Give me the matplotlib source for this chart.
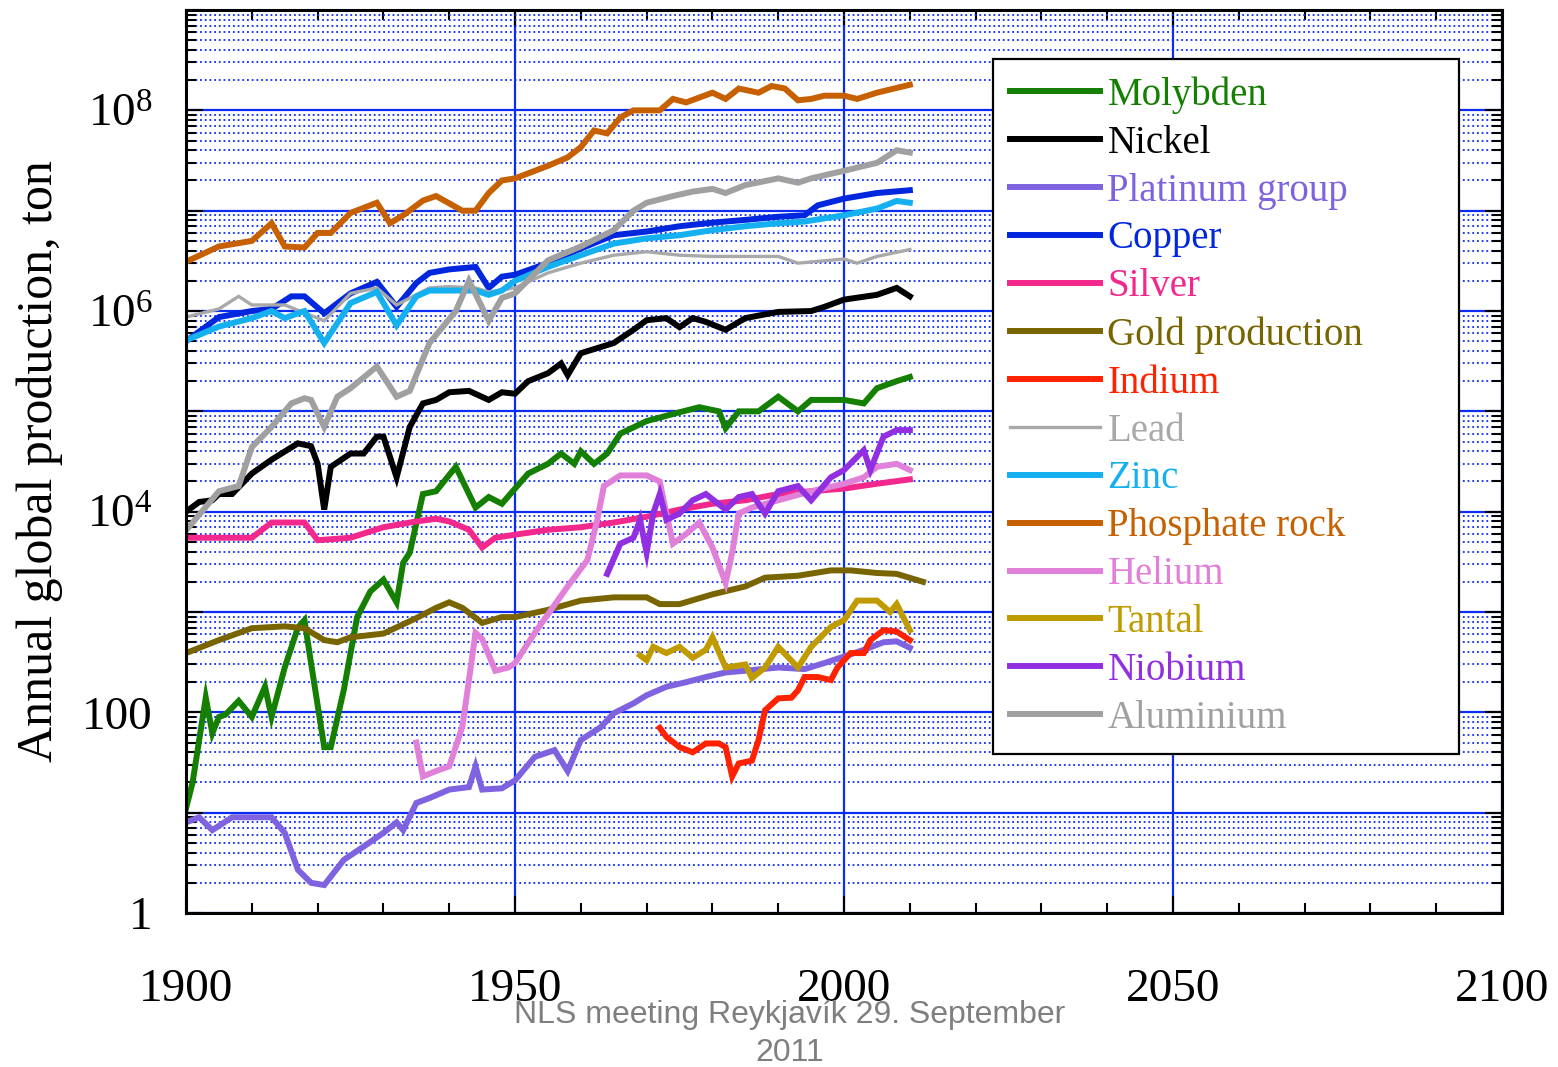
import numpy as np
import matplotlib
matplotlib.use("Agg")
import matplotlib.pyplot as plt
from matplotlib.ticker import LogLocator, FuncFormatter, MultipleLocator, NullFormatter

plt.rcParams['font.family'] = ['Liberation Serif', 'DejaVu Serif']
plt.rcParams['mathtext.fontset'] = 'custom'
plt.rcParams['mathtext.rm'] = 'Liberation Serif'
plt.rcParams['mathtext.it'] = 'Liberation Serif'

#%% data (tonnes per year)
moly_yr = [1900, 1901, 1902, 1903, 1904, 1905, 1906, 1908, 1910, 1912, 1913, 1915, 1917, 1918, 1919, 1921, 1922,
           1924, 1926, 1928, 1930, 1932, 1933, 1934, 1936, 1938, 1941, 1944, 1946, 1948, 1950, 1952, 1955, 1957,
           1959, 1960, 1962, 1964, 1966, 1970, 1975, 1978, 1981, 1982, 1984, 1987, 1990, 1993, 1995, 2000, 2003,
           2005, 2008, 2010]
moly_val = [11, 20, 53, 140, 62, 90, 95, 130, 90, 180, 90, 280, 700, 830, 310, 45, 45,
            170, 890, 1600, 2100, 1250, 3100, 3900, 15000, 16000, 28000, 11000, 14000, 12000, 17000, 24000, 30000,
            38000, 30000, 40000, 30000, 38000, 60000, 80000, 98000, 110000, 100000, 68000, 100000, 100000, 140000,
            100000, 130000, 130000, 120000, 170000, 200000, 220000]

nickel_yr = [1900, 1902, 1904, 1905, 1907, 1910, 1913, 1917, 1919, 1920, 1921, 1922, 1925, 1927, 1929, 1930, 1932,
             1934, 1936, 1938, 1940, 1943, 1946, 1948, 1950, 1952, 1955, 1957, 1958, 1960, 1965, 1968, 1970, 1973,
             1975, 1977, 1979, 1982, 1985, 1990, 1995, 1997, 2000, 2005, 2008, 2010]
nickel_val = [10000, 12500, 13000, 15000, 15000, 24000, 33000, 48000, 45000, 30000, 10500, 28000, 38000, 38000,
              56000, 56000, 22000, 70000, 120000, 130000, 155000, 160000, 130000, 155000, 150000, 200000, 240000,
              300000, 230000, 380000, 480000, 650000, 810000, 850000, 690000, 850000, 780000, 650000, 850000,
              980000, 1000000, 1100000, 1300000, 1450000, 1700000, 1400000]

pgm_yr = [1900, 1902, 1904, 1907, 1910, 1913, 1915, 1917, 1919, 1921, 1924, 1927, 1930, 1932, 1933, 1935, 1937,
          1940, 1943, 1944, 1945, 1948, 1950, 1953, 1956, 1958, 1960, 1963, 1965, 1968, 1970, 1973, 1976, 1979,
          1982, 1985, 1990, 1994, 1997, 2000, 2003, 2006, 2008, 2010]
pgm_val = [8, 9, 6.7, 9, 9, 9, 6.3, 2.7, 2, 1.9, 3.4, 4.6, 6.3, 8, 6.7, 12.5, 14,
           17, 18, 29, 17, 17.5, 21, 36, 42, 26, 53, 71, 98, 123, 148, 180, 200, 225,
           250, 260, 280, 270, 310, 360, 420, 500, 510, 440]

copper_yr = [1900, 1905, 1910, 1913, 1916, 1918, 1921, 1925, 1929, 1932, 1935, 1937, 1940, 1944, 1946, 1948, 1950,
             1955, 1960, 1965, 1970, 1975, 1980, 1985, 1990, 1994, 1996, 2000, 2005, 2010]
copper_val = [5.0e5, 8.7e5, 1.0e6, 1.05e6, 1.4e6, 1.4e6, 9.5e5, 1.5e6, 1.95e6, 1.1e6, 1.9e6, 2.4e6, 2.6e6, 2.75e6,
              1.7e6, 2.2e6, 2.3e6, 3.0e6, 4.2e6, 5.7e6, 6.2e6, 7.0e6, 7.6e6, 8.1e6, 8.7e6, 9.0e6, 1.13e7, 1.32e7,
              1.5e7, 1.6e7]

silver_yr = [1900, 1910, 1913, 1918, 1920, 1925, 1930, 1935, 1938, 1940, 1943, 1945, 1947, 1950, 1955, 1960, 1965,
             1970, 1975, 1980, 1985, 1990, 1995, 2000, 2005, 2010]
silver_val = [5500, 5500, 7800, 7800, 5200, 5500, 7000, 8000, 8500, 8000, 6600, 4400, 5500, 5900, 6600, 7000, 7800,
              8900, 10500, 12000, 13000, 15000, 16000, 17000, 19000, 21000]

gold_yr = [1900, 1905, 1910, 1915, 1918, 1921, 1923, 1925, 1930, 1935, 1938, 1940, 1942, 1945, 1948, 1950, 1955,
           1960, 1965, 1970, 1972, 1975, 1980, 1985, 1988, 1993, 1998, 2001, 2005, 2008, 2012]
gold_val = [390, 525, 690, 720, 690, 525, 500, 560, 610, 870, 1100, 1250, 1100, 780, 890, 890, 1050,
            1300, 1400, 1400, 1200, 1200, 1500, 1800, 2200, 2300, 2600, 2600, 2450, 2400, 2000]

indium_yr = [1972, 1973, 1975, 1977, 1979, 1981, 1982, 1983, 1984, 1986, 1987, 1988, 1990, 1992, 1993, 1994, 1996,
             1998, 1999, 2001, 2003, 2004, 2006, 2008, 2010]
indium_val = [70, 57, 45, 40, 49, 49, 45, 23, 31, 33, 53, 105, 138, 140, 166, 225, 225,
              210, 280, 390, 390, 525, 660, 640, 525]

lead_yr = [1900, 1905, 1908, 1910, 1915, 1921, 1925, 1929, 1932, 1937, 1940, 1944, 1946, 1950, 1955, 1960, 1965,
           1970, 1975, 1980, 1985, 1990, 1993, 2000, 2002, 2005, 2010]
lead_val = [8.7e5, 1.05e6, 1.4e6, 1.15e6, 1.15e6, 8.0e5, 1.5e6, 1.7e6, 1.15e6, 1.7e6, 1.75e6, 1.7e6, 1.55e6,
            1.7e6, 2.4e6, 3.0e6, 3.6e6, 3.9e6, 3.6e6, 3.5e6, 3.5e6, 3.5e6, 3.0e6, 3.3e6, 3.0e6, 3.5e6, 4.1e6]

zinc_yr = [1900, 1905, 1910, 1913, 1915, 1918, 1921, 1925, 1929, 1932, 1935, 1937, 1940, 1944, 1946, 1948, 1950,
           1955, 1960, 1965, 1970, 1975, 1980, 1985, 1990, 1994, 2000, 2005, 2008, 2010]
zinc_val = [5.1e5, 7.0e5, 8.5e5, 1.0e6, 8.5e5, 1.0e6, 4.8e5, 1.2e6, 1.55e6, 7.2e5, 1.4e6, 1.6e6, 1.6e6, 1.6e6,
            1.45e6, 1.6e6, 2.0e6, 2.75e6, 3.6e6, 4.7e6, 5.3e6, 5.7e6, 6.4e6, 7.0e6, 7.5e6, 7.8e6, 9.0e6, 1.05e7,
            1.25e7, 1.2e7]

phos_yr = [1900, 1905, 1910, 1913, 1915, 1918, 1920, 1922, 1925, 1929, 1931, 1933, 1936, 1938, 1942, 1944, 1946,
           1948, 1950, 1955, 1958, 1960, 1962, 1964, 1966, 1968, 1972, 1974, 1976, 1980, 1982, 1984, 1987, 1989,
           1991, 1993, 1995, 1997, 2000, 2002, 2005, 2010]
phos_val = [3.1e6, 4.4e6, 5.0e6, 7.5e6, 4.4e6, 4.3e6, 6.0e6, 6.0e6, 9.5e6, 1.2e7, 7.5e6, 9.0e6, 1.26e7, 1.4e7,
            1.0e7, 1.0e7, 1.5e7, 2.0e7, 2.1e7, 2.8e7, 3.4e7, 4.3e7, 6.3e7, 5.9e7, 8.5e7, 1.0e8, 1.0e8, 1.3e8,
            1.2e8, 1.5e8, 1.3e8, 1.65e8, 1.5e8, 1.75e8, 1.65e8, 1.26e8, 1.3e8, 1.4e8, 1.4e8, 1.3e8, 1.5e8, 1.8e8]

helium_yr = [1935, 1936, 1938, 1940, 1942, 1944, 1945, 1947, 1949, 1950, 1953, 1958, 1961, 1962.5, 1963.5, 1966,
             1970, 1972, 1973, 1974, 1976, 1978, 1980, 1982, 1983, 1984, 1986, 1990, 1995, 2000, 2003, 2005, 2008,
             2010]
helium_val = [50, 23, 26, 29, 72, 620, 540, 260, 280, 310, 620, 1800, 3300, 8300, 18000, 23000,
              23000, 20000, 9600, 4800, 6000, 7800, 4400, 1950, 3900, 9600, 11000, 13000, 16000, 19000, 22000,
              28000, 30000, 26000]

tantal_yr = [1969, 1970, 1971, 1973, 1975, 1977, 1979, 1980, 1982, 1985, 1986, 1988, 1990, 1993, 1995, 1998, 2000,
             2002, 2005, 2007, 2008, 2010]
tantal_val = [370, 330, 450, 390, 450, 350, 420, 560, 280, 300, 220, 280, 450, 280, 450, 710, 830,
              1300, 1300, 1000, 1200, 660]

niob_yr = [1964, 1966, 1968, 1969, 1970, 1971, 1972, 1973, 1975, 1977, 1979, 1982, 1984, 1986, 1988, 1990, 1993,
           1995, 1998, 2000, 2003, 2004, 2006, 2008, 2010]
niob_val = [2400, 4800, 5500, 8300, 3900, 9600, 15000, 8300, 9600, 13000, 15000, 10500, 14000, 15000, 9600, 16000,
            18000, 13000, 22000, 26000, 41000, 26000, 56000, 65000, 65000]

alu_yr = [1900, 1905, 1908, 1910, 1913, 1916, 1918, 1919, 1921, 1923, 1925, 1929, 1932, 1934, 1937, 1941, 1943,
          1946, 1948, 1950, 1955, 1960, 1965, 1968, 1970, 1974, 1977, 1980, 1982, 1985, 1990, 1993, 1995, 2000,
          2005, 2008, 2010]
alu_val = [6.5e3, 1.6e4, 1.8e4, 4.4e4, 7.0e4, 1.2e5, 1.35e5, 1.3e5, 7.0e4, 1.4e5, 1.7e5, 2.8e5, 1.4e5, 1.6e5,
           4.8e5, 1.0e6, 2.0e6, 8.0e5, 1.35e6, 1.5e6, 3.2e6, 4.4e6, 6.4e6, 1.0e7, 1.2e7, 1.4e7, 1.55e7, 1.65e7,
           1.5e7, 1.8e7, 2.1e7, 1.9e7, 2.1e7, 2.5e7, 3.0e7, 4.0e7, 3.8e7]

labels = ['Molybden', 'Nickel', 'Platinum group', 'Copper', 'Silver', 'Gold production', 'Indium',
          'Lead', 'Zinc', 'Phosphate rock', 'Helium', 'Tantal', 'Niobium', 'Aluminium']
colors = ['#147f00', '#000000', '#7f62e0', '#0027de', '#f2288c', '#786500', '#ff2200',
          '#a9a9a9', '#15b0f0', '#c66000', '#e080d8', '#c09b00', '#922fe0', '#a0a0a0']
widths = [4.3, 4.3, 4.3, 4.3, 4.3, 4.3, 4.3, 2.4, 4.3, 4.3, 4.3, 4.3, 4.3, 4.3]

series = [(moly_yr, moly_val), (nickel_yr, nickel_val), (pgm_yr, pgm_val), (copper_yr, copper_val),
          (silver_yr, silver_val), (gold_yr, gold_val), (indium_yr, indium_val), (lead_yr, lead_val),
          (zinc_yr, zinc_val), (phos_yr, phos_val), (helium_yr, helium_val), (tantal_yr, tantal_val),
          (niob_yr, niob_val), (alu_yr, alu_val)]

#%% plot
fig = plt.figure(figsize=(15.58, 10.67), dpi=100)
ax = fig.add_axes([0.1194, 0.1443, 0.8447, 0.8463])
gridblue = '#0a2cf5'

for (x, y), lab, c, w in zip(series, labels, colors, widths):
    ax.plot(x, y, color=c, lw=w, label=lab, solid_joinstyle='miter')

ax.set_yscale('log')
ax.set_xlim(1900, 2100)
ax.set_ylim(1, 1e9)

ax.xaxis.set_major_locator(MultipleLocator(50))
ax.xaxis.set_minor_locator(MultipleLocator(10))
ax.yaxis.set_major_locator(LogLocator(base=10, numticks=20))
ax.yaxis.set_minor_locator(LogLocator(base=10, subs=np.arange(2, 10), numticks=20))
ax.yaxis.set_minor_formatter(NullFormatter())

def ylab(v, pos):
    e = int(round(np.log10(v)))
    if e % 2 == 1 or e > 8:
        return ''
    if e == 0:
        return '1'
    if e == 2:
        return '100'
    return r'$10^{%d}$' % e
ax.yaxis.set_major_formatter(FuncFormatter(ylab))

ax.set_axisbelow(True)
ax.grid(True, which='major', axis='y', color=gridblue, lw=1.6, ls='-')
ax.grid(True, which='minor', axis='y', color=gridblue, lw=1.3, ls=(0, (1, 1.6)))
ax.grid(True, which='major', axis='x', color=gridblue, lw=1.6, ls='-')

ax.tick_params(which='both', direction='in', top=True, right=True, width=1.5, color='black')
ax.tick_params(which='major', length=12, labelsize=34)
ax.tick_params(which='minor', length=7)
ax.tick_params(axis='x', which='major', pad=40)
ax.tick_params(axis='y', which='major', pad=24)
for s in ax.spines.values():
    s.set_linewidth(2.2)

ax.set_ylabel('Annual global production, ton', fontsize=36, labelpad=14)

leg = ax.legend(loc='upper left', bbox_to_anchor=(0.613, 0.946, 0.354, 0.0), mode='expand',
                fontsize=28, labelcolor='linecolor',
                handlelength=2.3, handletextpad=0.2, borderpad=0.45, labelspacing=0.28,
                fancybox=False, framealpha=1, edgecolor='black', borderaxespad=0)
leg.get_frame().set_linewidth(1.6)

fig.text(0.507, 0.0305, 'NLS meeting Reykjavík 29. September\n2011', ha='center', va='center',
         fontsize=23, color='#7f7f7f', family='Liberation Sans', linespacing=1.35)

fig.savefig('out.png', dpi=100)
